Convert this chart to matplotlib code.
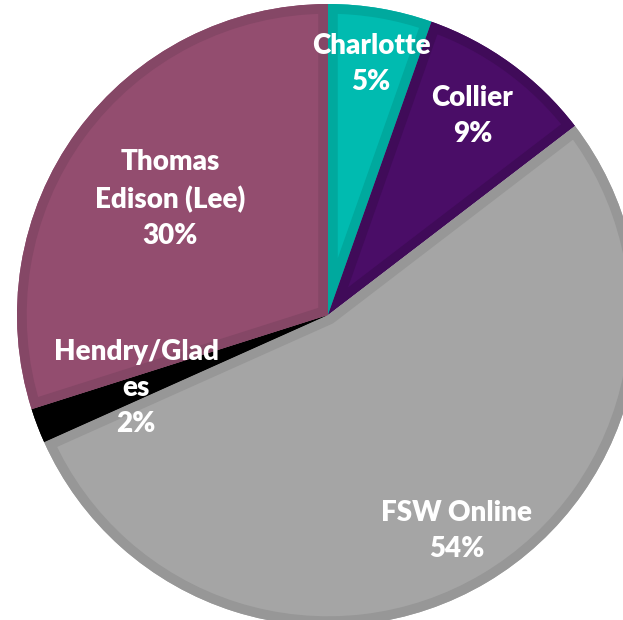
import matplotlib.pyplot as plt
from matplotlib.patches import Wedge
import numpy as np

# share of enrollment by campus
campuses = ["Charlotte", "Collier", "FSW Online", "Hendry/Glad\nes", "Thomas\nEdison (Lee)"]
shares = [5.4, 9.2, 53.7, 1.8, 29.9]

face_colors = ["#00BBB0", "#4A0D67", "#A5A5A5", "#000000", "#934D6F"]
band_colors = ["#00A99E", "#400B59", "#979797", "#000000", "#854766"]
label_dist = [0.82, 0.79, 0.81, 0.66, 0.63]

plt.rcParams["font.family"] = ["Lato", "DejaVu Sans"]

fig = plt.figure(figsize=(6.23, 6.20), dpi=100)
ax = fig.add_axes([0, 0, 1, 1])

wedges, _ = ax.pie(shares, colors=face_colors, startangle=90, counterclock=False,
                   radius=1.0, wedgeprops=dict(linewidth=0))

# darker inner band along every slice edge (stroke clipped to its own slice)
for w, bc in zip(wedges, band_colors):
    band = Wedge(w.center, w.r, w.theta1, w.theta2, facecolor="none",
                 edgecolor=bc, linewidth=14)
    ax.add_patch(band)
    band.set_clip_on(True)
    band.set_clip_path(w)

total = sum(shares)
for w, name, val, d in zip(wedges, campuses, shares, label_dist):
    ang = np.deg2rad((w.theta1 + w.theta2) / 2)
    ax.text(d * np.cos(ang), d * np.sin(ang),
            "%s\n%d%%" % (name, round(val / total * 100)),
            ha="center", va="center", color="white", fontsize=20,
            fontweight="heavy", linespacing=1.48)

# pie centre sits at (328, 315) px with a 311 px radius, cropped right and bottom
r_px = 311
ax.set_xlim(-328 / r_px, (623 - 328) / r_px)
ax.set_ylim(-(620 - 315) / r_px, 315 / r_px)
ax.set_aspect("auto")
ax.axis("off")

fig.savefig("out.png", dpi=100)
plt.close()
